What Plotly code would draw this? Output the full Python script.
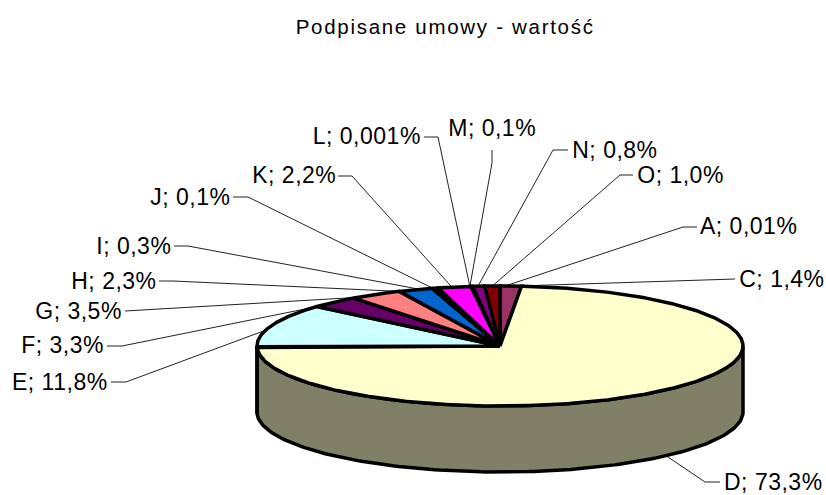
import numpy as np
import plotly.graph_objects as go

# --- data ---
categories = ["A", "C", "D", "E", "F", "G", "H", "I", "J", "K", "L", "M", "N", "O"]
values = [0.01, 1.4, 73.3, 11.8, 3.3, 3.5, 2.3, 0.3, 0.1, 2.2, 0.001, 0.1, 0.8, 1.0]
value_labels = ["0,01%", "1,4%", "73,3%", "11,8%", "3,3%", "3,5%", "2,3%", "0,3%",
                "0,1%", "2,2%", "0,001%", "0,1%", "0,8%", "1,0%"]
title_text = "Podpisane umowy - wartość"

# --- styles ---
colors = ["#9999FF", "#993366", "#FFFFCC", "#CCFFFF", "#660066", "#FF8080", "#0066CC",
          "#CCCCFF", "#000080", "#FF00FF", "#FFFF00", "#00FFFF", "#800080", "#800000"]
side_color = "#808066"
FONT = "Liberation Sans, Arial, sans-serif"
LABEL_SPACING, TITLE_SPACING = 0.5, 1.7

# --- layout geometry (pixels of the 826x495 page) ---
W, H = 826, 495
CX, CY, RX, RY, DEPTH = 500.0, 346.0, 243.0, 60.0, 66.0
label_left = [700, 739, 724, 12, 21, 35, 71, 96, 150, 252, 313, 448, 572, 637]
label_mid = [226, 279, 482, 382, 345, 311, 281, 246, 197, 175, 136, 128, 150, 175]
# label-side part of each leader, and small shift of the pie-side end (as a share of the pie)
elbows = [[(697, 227), (683, 227)], [(735, 279)], [(720, 482), (705, 482)],
          [(111, 382), (126, 382)], [(107, 346), (122, 346)], [(125, 311)],
          [(159, 281), (173, 281)], [(174, 246), (188, 246)], [(233, 197), (248, 197)],
          [(338, 176), (352, 176)], [(424, 137), (438, 137)], [(492, 150), (492, 163)],
          [(568, 150), (553, 150)], [(633, 175), (620, 175)]]
leader_shift = [0.0033, 0.0027, 0.0, -0.013, -0.017, -0.014, -0.0115, -0.010, -0.003,
                -0.0017, -0.0008, -0.0013, -0.0005, 0.0]


def ellipse(frac, drop=0.0):
    a = 2 * np.pi * np.asarray(frac)
    return CX + RX * np.sin(a), CY - RY * np.cos(a) + drop


total = sum(values)
edges = np.concatenate([[0.0], np.cumsum(values) / total])

fig = go.Figure()

# leaders sit underneath the pie
for i, pts in enumerate(elbows):
    mid = (edges[i] + edges[i + 1]) / 2 + leader_shift[i]
    front = 0.25 < mid < 0.75
    ex, ey = ellipse(mid, DEPTH if front else 0.0)
    xs = [p[0] for p in pts] + [float(ex)]
    ys = [p[1] for p in pts] + [float(ey)]
    fig.add_trace(go.Scatter(x=xs, y=ys, mode="lines", hoverinfo="skip", showlegend=False,
                             line=dict(color="#222222", width=1)))

# side wall of whichever slices face the viewer
for i in range(len(values)):
    lo, hi = max(edges[i], 0.25), min(edges[i + 1], 0.75)
    if hi <= lo:
        continue
    t = np.linspace(lo, hi, 160)
    x1, y1 = ellipse(t)
    x2, y2 = ellipse(t[::-1], DEPTH)
    fig.add_trace(go.Scatter(x=np.r_[x1, x2, x1[0]], y=np.r_[y1, y2, y1[0]], mode="lines",
                             fill="toself", fillcolor=side_color, hoverinfo="skip",
                             showlegend=False, line=dict(color="black", width=3.5)))

# top face
for i, cat in enumerate(categories):
    t = np.linspace(edges[i], edges[i + 1], max(2, int((edges[i + 1] - edges[i]) * 720)))
    x, y = ellipse(t)
    fig.add_trace(go.Scatter(x=np.r_[CX, x, CX], y=np.r_[CY, y, CY], mode="lines",
                             fill="toself", fillcolor=colors[i], name=cat,
                             hovertext=f"{cat}; {value_labels[i]}", hoverinfo="text",
                             showlegend=False, line=dict(color="black", width=3.5)))

annotations = []
for i, cat in enumerate(categories):
    text = f"{cat}; {value_labels[i]}"
    annotations.append(dict(x=label_left[i], y=label_mid[i], text=text,
                            xanchor="left", yanchor="middle", showarrow=False,
                            font=dict(family=FONT, size=23, color="#000000")))
annotations.append(dict(x=445, y=26, text=title_text, xanchor="center", yanchor="middle",
                        showarrow=False, font=dict(family=FONT, size=20.5, color="#000000")))

fig.update_layout(
    width=W, height=H, margin=dict(l=0, r=0, t=0, b=0), paper_bgcolor="white",
    plot_bgcolor="white", annotations=annotations, showlegend=False,
    xaxis=dict(range=[0, W], visible=False, fixedrange=True),
    yaxis=dict(range=[H, 0], visible=False, fixedrange=True),
)
post = """
document.body.style.margin = '0';
document.querySelectorAll('.annotation-text').forEach(function (t) {
  t.style.letterSpacing = t.textContent.indexOf('Podpisane') === 0 ? '%spx' : '%spx';
});
""" % (TITLE_SPACING, LABEL_SPACING)
fig.write_html("out.html", post_script=post, config={"displayModeBar": False})
